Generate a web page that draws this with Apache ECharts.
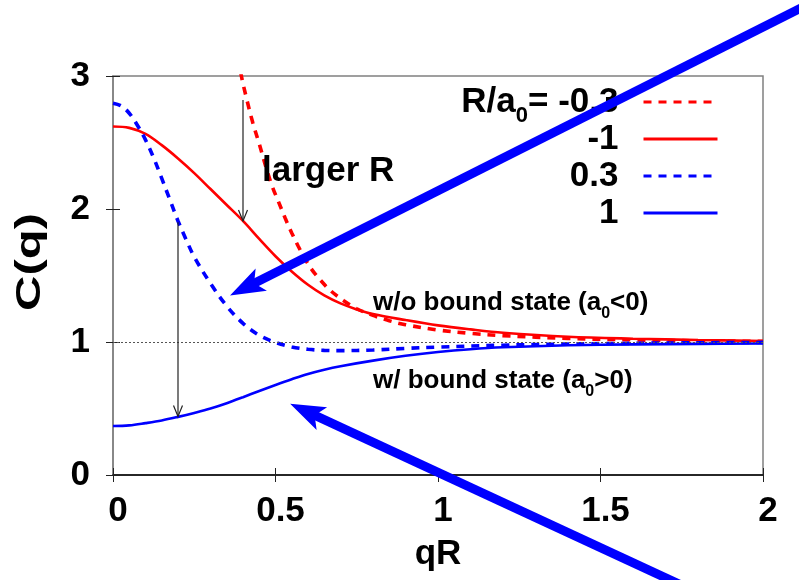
<!DOCTYPE html>
<html>
<head>
<meta charset="utf-8">
<script src="https://cdn.jsdelivr.net/npm/echarts@6/dist/echarts.min.js"></script>
<style>
  html, body { margin: 0; padding: 0; background: #fff; }
  #chart { width: 799px; height: 580px; }
</style>
</head>
<body>
<div id="chart"></div>
<script>
// C(q) versus qR for four values of R/a0
const seriesNames = ['R/a0= -0.3', '-1', '0.3', '1'];

const qrNeg03 = [0.385, 0.395, 0.41, 0.43, 0.45, 0.47, 0.49, 0.51, 0.53, 0.55, 0.57, 0.59, 0.61, 0.64, 0.67, 0.71, 0.75, 0.8, 0.85, 0.9, 1.0, 1.1, 1.2, 1.4, 1.6, 1.8, 2.0];
const cNeg03  = [3.14, 3.0, 2.84, 2.65, 2.49, 2.32, 2.17, 2.05, 1.93, 1.82, 1.72, 1.63, 1.55, 1.46, 1.385, 1.31, 1.25, 1.2, 1.16, 1.13, 1.09, 1.065, 1.048, 1.027, 1.016, 1.009, 1.005];

const qrNeg1 = [0, 0.05, 0.1, 0.15, 0.2, 0.25, 0.3, 0.35, 0.4, 0.45, 0.5, 0.55, 0.6, 0.65, 0.7, 0.75, 0.8, 0.9, 1.0, 1.1, 1.2, 1.4, 1.6, 1.8, 2.0];
const cNeg1  = [2.62, 2.61, 2.565, 2.48, 2.38, 2.27, 2.15, 2.03, 1.91, 1.775, 1.645, 1.53, 1.43, 1.35, 1.29, 1.245, 1.21, 1.165, 1.125, 1.095, 1.07, 1.04, 1.025, 1.015, 1.008];

const qrPos03 = [0, 0.025, 0.05, 0.075, 0.1, 0.125, 0.15, 0.175, 0.2, 0.225, 0.25, 0.3, 0.35, 0.4, 0.45, 0.5, 0.55, 0.6, 0.65, 0.7, 0.8, 0.9, 1.0, 1.2, 1.4, 1.6, 1.8, 2.0];
const cPos03  = [2.795, 2.775, 2.72, 2.63, 2.52, 2.385, 2.23, 2.07, 1.91, 1.77, 1.64, 1.44, 1.27, 1.14, 1.05, 0.997, 0.963, 0.945, 0.937, 0.935, 0.94, 0.952, 0.962, 0.976, 0.985, 0.99, 0.994, 0.997];

const qrPos1 = [0, 0.05, 0.1, 0.15, 0.2, 0.25, 0.3, 0.35, 0.4, 0.45, 0.5, 0.55, 0.6, 0.65, 0.7, 0.8, 0.9, 1.0, 1.1, 1.2, 1.4, 1.6, 1.8, 2.0];
const cPos1  = [0.368, 0.373, 0.39, 0.41, 0.437, 0.467, 0.5, 0.54, 0.585, 0.632, 0.677, 0.72, 0.76, 0.792, 0.818, 0.86, 0.896, 0.925, 0.946, 0.96, 0.975, 0.982, 0.986, 0.989];

// reference level C = 1
const unityLevel = 1;

// "larger R" arrows: [qR, from C, to C]
const shiftArrows = [
  [0.4, 2.82, 1.91],
  [0.2, 1.9, 0.44]
];

// callout arrows: [tail, tip] in (qR, C)
const calloutArrows = [
  [[2.14, 3.54], [0.36, 1.35]],
  [[1.83, -0.92], [0.545, 0.535]]
];

const FONT = '"Liberation Sans", Arial, Helvetica, sans-serif';
const RED = '#ff0000';
const BLUE = '#0000ff';

const pairs = (xs, ys) => xs.map((x, i) => [x, ys[i]]);

const chart = echarts.init(document.getElementById('chart'), null, { renderer: 'canvas' });

const tickAxisBase = {
  type: 'value',
  splitLine: { show: false },
  axisTick: { show: true, inside: true, length: 7, lineStyle: { color: '#222', width: 1 } }
};

const curve = (name, xs, ys, color, dashed) => ({
  name, type: 'line', data: pairs(xs, ys),
  symbol: 'none', smooth: 0.35, clip: true, z: 3,
  lineStyle: { color, width: dashed ? 3.6 : 2.6, type: dashed ? [8, 7] : 'solid' },
  itemStyle: { color }
});

const seriesList = [
  curve(seriesNames[0], qrNeg03, cNeg03, RED, true),
  curve(seriesNames[1], qrNeg1, cNeg1, RED, false),
  curve(seriesNames[2], qrPos03, cPos03, BLUE, true),
  curve(seriesNames[3], qrPos1, cPos1, BLUE, false)
];
seriesList[0].markLine = {
  silent: true, symbol: ['none', 'none'], label: { show: false },
  lineStyle: { color: '#555', width: 1, type: [2, 2] },
  data: [{ yAxis: unityLevel }]
};

chart.setOption({
  backgroundColor: '#fff',
  animation: false,
  grid: {
    left: 113, right: 36, top: 76, bottom: 105,
    show: true, borderColor: '#808080', borderWidth: 1.5, backgroundColor: 'transparent'
  },
  xAxis: [
    Object.assign({}, tickAxisBase, {
      position: 'bottom', min: 0, max: 2, interval: 0.5,
      axisLine: { show: true, lineStyle: { color: '#000', width: 1.5 } },
      axisLabel: {
        fontFamily: FONT, fontSize: 35, fontWeight: 'bold', color: '#000',
        margin: 19, padding: [0, 0, 0, 10]
      },
      name: 'qR', nameLocation: 'middle', nameGap: 62,
      nameTextStyle: { fontFamily: FONT, fontSize: 35, fontWeight: 'bold', color: '#000' }
    }),
    Object.assign({}, tickAxisBase, {
      position: 'top', min: 0, max: 2, interval: 0.5,
      axisLine: { show: false }, axisLabel: { show: false }
    })
  ],
  yAxis: [
    Object.assign({}, tickAxisBase, {
      position: 'left', min: 0, max: 3, interval: 1,
      axisLine: { show: true, lineStyle: { color: '#808080', width: 1.5 } },
      axisLabel: {
        fontFamily: FONT, fontSize: 35, fontWeight: 'bold', color: '#000', margin: 23
      }
    }),
    Object.assign({}, tickAxisBase, {
      position: 'right', min: 0, max: 3, interval: 1,
      axisLine: { show: false }, axisLabel: { show: false }
    })
  ],
  legend: {
    data: seriesNames,
    orient: 'vertical', align: 'right',
    right: 80, top: 77, padding: 0, itemGap: -13,
    itemWidth: 74, itemHeight: 14,
    selectedMode: false,
    itemStyle: { opacity: 0 },
    lineStyle: { width: 3 },
    textStyle: {
      fontFamily: FONT, fontSize: 35, fontWeight: 'bold', color: '#000',
      lineHeight: 50, padding: [0, 20, 0, 0],
      rich: {
        t: { fontFamily: FONT, fontSize: 35, fontWeight: 'bold', color: '#000', lineHeight: 50 },
        s: { fontFamily: FONT, fontSize: 22, fontWeight: 'bold', color: '#000', lineHeight: 50, verticalAlign: 'bottom' }
      }
    },
    formatter: name => name === seriesNames[0]
      ? '{t|R/a}{s|0}{t|= -0.3}'
      : '{t|' + name + '}'
  },
  series: seriesList
});

// annotation layer: arrows placed from data coordinates, plus text labels
const toPx = p => chart.convertToPixel({ gridIndex: 0 }, p);

function unit(a, b) {
  const dx = b[0] - a[0], dy = b[1] - a[1];
  const len = Math.hypot(dx, dy);
  return [dx / len, dy / len];
}

const graphics = [];

shiftArrows.forEach(([q, c0, c1]) => {
  const a = toPx([q, c0]), b = toPx([q, c1]);
  const d = unit(a, b), n = [-d[1], d[0]];
  const L = 11, W = 4.5;
  graphics.push({
    type: 'line', z: 20, silent: true,
    shape: { x1: a[0], y1: a[1], x2: b[0], y2: b[1] },
    style: { stroke: '#222', lineWidth: 1.2 }
  });
  graphics.push({
    type: 'polyline', z: 20, silent: true,
    shape: { points: [
      [b[0] - d[0] * L + n[0] * W, b[1] - d[1] * L + n[1] * W],
      [b[0], b[1]],
      [b[0] - d[0] * L - n[0] * W, b[1] - d[1] * L - n[1] * W]
    ] },
    style: { stroke: '#222', lineWidth: 1.2, fill: null }
  });
});

calloutArrows.forEach(([tail, tip]) => {
  const a = toPx(tail), b = toPx(tip);
  const d = unit(a, b), n = [-d[1], d[0]];
  const L = 35, W = 12.5, notch = 27;
  const base = [b[0] - d[0] * notch, b[1] - d[1] * notch];
  graphics.push({
    type: 'line', z: 30, silent: true,
    shape: { x1: a[0], y1: a[1], x2: base[0] + d[0] * 2, y2: base[1] + d[1] * 2 },
    style: { stroke: BLUE, lineWidth: 9 }
  });
  graphics.push({
    type: 'polygon', z: 30, silent: true,
    shape: { points: [
      [b[0], b[1]],
      [b[0] - d[0] * L + n[0] * W, b[1] - d[1] * L + n[1] * W],
      base,
      [b[0] - d[0] * L - n[0] * W, b[1] - d[1] * L - n[1] * W]
    ] },
    style: { fill: BLUE }
  });
});

const noteRich = {
  m: { fontFamily: FONT, fontSize: 26, fontWeight: 'bold', color: '#000', lineHeight: 37 },
  s: { fontFamily: FONT, fontSize: 16, fontWeight: 'bold', color: '#000', lineHeight: 37, verticalAlign: 'bottom' }
};

graphics.push(
  {
    type: 'text', z: 25, silent: true, x: 262, y: 171,
    style: { text: 'larger R', fontFamily: FONT, fontSize: 35, fontWeight: 'bold', fill: '#000', align: 'left', verticalAlign: 'middle' }
  },
  {
    type: 'text', z: 25, silent: true, x: 373, y: 303,
    style: { text: '{m|w/o bound state (a}{s|0}{m|<0)}', rich: noteRich, align: 'left', verticalAlign: 'middle' }
  },
  {
    type: 'text', z: 25, silent: true, x: 373, y: 381,
    style: { text: '{m|w/ bound state (a}{s|0}{m|>0)}', rich: noteRich, align: 'left', verticalAlign: 'middle' }
  },
  {
    type: 'text', z: 25, silent: true, x: 30, y: 262, rotation: Math.PI / 2, scaleX: 1.4,
    style: { text: 'C(q)', fontFamily: FONT, fontSize: 35, fontWeight: 'bold', fill: '#000', align: 'center', verticalAlign: 'middle' }
  }
);

chart.setOption({ graphic: graphics });
</script>
</body>
</html>
